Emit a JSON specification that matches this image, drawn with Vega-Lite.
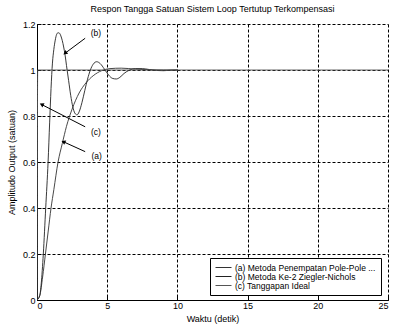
{
  "$schema": "https://vega.github.io/schema/vega-lite/v6.json",
  "autosize": {"type": "none"},
  "width": 351,
  "height": 276,
  "padding": {"left": 37, "top": 24, "right": 5, "bottom": 27},
  "background": "white",
  "config": {
    "font": "Liberation Sans",
    "view": {"stroke": null},
    "axis": {
      "labelFont": "Liberation Sans",
      "titleFont": "Liberation Sans",
      "labelFontSize": 9,
      "titleFontSize": 9,
      "titleFontWeight": "normal",
      "labelColor": "black",
      "titleColor": "black",
      "domainColor": "black",
      "tickColor": "black",
      "gridColor": "black",
      "gridDash": [3, 2],
      "gridOpacity": 1,
      "gridWidth": 1
    }
  },
  "title": {"text": "Respon Tangga Satuan Sistem Loop Tertutup Terkompensasi", "fontSize": 9, "fontWeight": "normal", "font": "Liberation Sans", "color": "black", "offset": 6},
  "datasets": {
    "curves": [
      {"t": 0, "y": 0, "s": "(a) Metoda Penempatan Pole-Pole ..."},
      {"t": 0.2, "y": 0.02, "s": "(a) Metoda Penempatan Pole-Pole ..."},
      {"t": 0.4, "y": 0.1, "s": "(a) Metoda Penempatan Pole-Pole ..."},
      {"t": 0.6, "y": 0.2, "s": "(a) Metoda Penempatan Pole-Pole ..."},
      {"t": 0.8, "y": 0.3, "s": "(a) Metoda Penempatan Pole-Pole ..."},
      {"t": 1.0, "y": 0.4, "s": "(a) Metoda Penempatan Pole-Pole ..."},
      {"t": 1.2, "y": 0.48, "s": "(a) Metoda Penempatan Pole-Pole ..."},
      {"t": 1.5, "y": 0.6, "s": "(a) Metoda Penempatan Pole-Pole ..."},
      {"t": 1.8, "y": 0.68, "s": "(a) Metoda Penempatan Pole-Pole ..."},
      {"t": 2.1, "y": 0.755, "s": "(a) Metoda Penempatan Pole-Pole ..."},
      {"t": 2.5, "y": 0.83, "s": "(a) Metoda Penempatan Pole-Pole ..."},
      {"t": 3.0, "y": 0.9, "s": "(a) Metoda Penempatan Pole-Pole ..."},
      {"t": 3.5, "y": 0.945, "s": "(a) Metoda Penempatan Pole-Pole ..."},
      {"t": 4.0, "y": 0.975, "s": "(a) Metoda Penempatan Pole-Pole ..."},
      {"t": 4.6, "y": 0.997, "s": "(a) Metoda Penempatan Pole-Pole ..."},
      {"t": 5.2, "y": 1.006, "s": "(a) Metoda Penempatan Pole-Pole ..."},
      {"t": 6.0, "y": 1.008, "s": "(a) Metoda Penempatan Pole-Pole ..."},
      {"t": 7.0, "y": 1.004, "s": "(a) Metoda Penempatan Pole-Pole ..."},
      {"t": 8.0, "y": 1.001, "s": "(a) Metoda Penempatan Pole-Pole ..."},
      {"t": 9.0, "y": 1.0, "s": "(a) Metoda Penempatan Pole-Pole ..."},
      {"t": 10.0, "y": 1.0, "s": "(a) Metoda Penempatan Pole-Pole ..."},
      {"t": 0, "y": 0, "s": "(b) Metoda Ke-2 Ziegler-Nichols"},
      {"t": 0.2, "y": 0.02, "s": "(b) Metoda Ke-2 Ziegler-Nichols"},
      {"t": 0.3, "y": 0.07, "s": "(b) Metoda Ke-2 Ziegler-Nichols"},
      {"t": 0.45, "y": 0.2, "s": "(b) Metoda Ke-2 Ziegler-Nichols"},
      {"t": 0.62, "y": 0.4, "s": "(b) Metoda Ke-2 Ziegler-Nichols"},
      {"t": 0.79, "y": 0.6, "s": "(b) Metoda Ke-2 Ziegler-Nichols"},
      {"t": 0.9, "y": 0.77, "s": "(b) Metoda Ke-2 Ziegler-Nichols"},
      {"t": 1.0, "y": 0.92, "s": "(b) Metoda Ke-2 Ziegler-Nichols"},
      {"t": 1.1, "y": 1.03, "s": "(b) Metoda Ke-2 Ziegler-Nichols"},
      {"t": 1.2, "y": 1.09, "s": "(b) Metoda Ke-2 Ziegler-Nichols"},
      {"t": 1.3, "y": 1.13, "s": "(b) Metoda Ke-2 Ziegler-Nichols"},
      {"t": 1.4, "y": 1.155, "s": "(b) Metoda Ke-2 Ziegler-Nichols"},
      {"t": 1.5, "y": 1.162, "s": "(b) Metoda Ke-2 Ziegler-Nichols"},
      {"t": 1.6, "y": 1.16, "s": "(b) Metoda Ke-2 Ziegler-Nichols"},
      {"t": 1.7, "y": 1.148, "s": "(b) Metoda Ke-2 Ziegler-Nichols"},
      {"t": 1.8, "y": 1.128, "s": "(b) Metoda Ke-2 Ziegler-Nichols"},
      {"t": 1.9, "y": 1.1, "s": "(b) Metoda Ke-2 Ziegler-Nichols"},
      {"t": 2.0, "y": 1.065, "s": "(b) Metoda Ke-2 Ziegler-Nichols"},
      {"t": 2.1, "y": 1.02, "s": "(b) Metoda Ke-2 Ziegler-Nichols"},
      {"t": 2.25, "y": 0.955, "s": "(b) Metoda Ke-2 Ziegler-Nichols"},
      {"t": 2.4, "y": 0.89, "s": "(b) Metoda Ke-2 Ziegler-Nichols"},
      {"t": 2.55, "y": 0.84, "s": "(b) Metoda Ke-2 Ziegler-Nichols"},
      {"t": 2.7, "y": 0.812, "s": "(b) Metoda Ke-2 Ziegler-Nichols"},
      {"t": 2.85, "y": 0.805, "s": "(b) Metoda Ke-2 Ziegler-Nichols"},
      {"t": 3.0, "y": 0.818, "s": "(b) Metoda Ke-2 Ziegler-Nichols"},
      {"t": 3.2, "y": 0.858, "s": "(b) Metoda Ke-2 Ziegler-Nichols"},
      {"t": 3.4, "y": 0.91, "s": "(b) Metoda Ke-2 Ziegler-Nichols"},
      {"t": 3.6, "y": 0.96, "s": "(b) Metoda Ke-2 Ziegler-Nichols"},
      {"t": 3.8, "y": 1.0, "s": "(b) Metoda Ke-2 Ziegler-Nichols"},
      {"t": 4.0, "y": 1.025, "s": "(b) Metoda Ke-2 Ziegler-Nichols"},
      {"t": 4.25, "y": 1.036, "s": "(b) Metoda Ke-2 Ziegler-Nichols"},
      {"t": 4.5, "y": 1.028, "s": "(b) Metoda Ke-2 Ziegler-Nichols"},
      {"t": 4.8, "y": 1.004, "s": "(b) Metoda Ke-2 Ziegler-Nichols"},
      {"t": 5.1, "y": 0.978, "s": "(b) Metoda Ke-2 Ziegler-Nichols"},
      {"t": 5.4, "y": 0.963, "s": "(b) Metoda Ke-2 Ziegler-Nichols"},
      {"t": 5.65, "y": 0.961, "s": "(b) Metoda Ke-2 Ziegler-Nichols"},
      {"t": 5.9, "y": 0.968, "s": "(b) Metoda Ke-2 Ziegler-Nichols"},
      {"t": 6.2, "y": 0.985, "s": "(b) Metoda Ke-2 Ziegler-Nichols"},
      {"t": 6.6, "y": 1.0, "s": "(b) Metoda Ke-2 Ziegler-Nichols"},
      {"t": 7.0, "y": 1.006, "s": "(b) Metoda Ke-2 Ziegler-Nichols"},
      {"t": 7.5, "y": 1.006, "s": "(b) Metoda Ke-2 Ziegler-Nichols"},
      {"t": 8.0, "y": 1.002, "s": "(b) Metoda Ke-2 Ziegler-Nichols"},
      {"t": 8.5, "y": 0.998, "s": "(b) Metoda Ke-2 Ziegler-Nichols"},
      {"t": 9.0, "y": 0.997, "s": "(b) Metoda Ke-2 Ziegler-Nichols"},
      {"t": 9.5, "y": 0.999, "s": "(b) Metoda Ke-2 Ziegler-Nichols"},
      {"t": 10.0, "y": 1.0, "s": "(b) Metoda Ke-2 Ziegler-Nichols"},
      {"t": 0, "y": 0, "s": "(c) Tanggapan Ideal"},
      {"t": 0.05, "y": 1, "s": "(c) Tanggapan Ideal"},
      {"t": 25, "y": 1, "s": "(c) Tanggapan Ideal"}
    ],
    "labels": [
      {"t": 4.2, "y": 1.162, "txt": "(b)"},
      {"t": 4.2, "y": 0.732, "txt": "(c)"},
      {"t": 4.25, "y": 0.626, "txt": "(a)"}
    ],
    "arrows": [
      {"k": "b", "t": 3.43, "y": 1.138, "t2": 2.0, "y2": 1.073},
      {"k": "c", "t": 3.43, "y": 0.753, "t2": 0.33, "y2": 0.85},
      {"k": "a", "t": 3.43, "y": 0.645, "t2": 1.88, "y2": 0.688}
    ]
  },
  "layer": [
    {
      "data": {"name": "curves"},
      "mark": {"type": "line", "strokeWidth": 0.9, "interpolate": "monotone", "clip": true},
      "encoding": {
        "x": {
          "field": "t", "type": "quantitative",
          "scale": {"domain": [0, 25], "nice": false, "zero": false},
          "axis": {"values": [0, 5, 10, 15, 20, 25], "format": "~g", "title": "Waktu (detik)", "grid": true, "tickSize": -4, "labelPadding": 5, "titlePadding": 4, "domainWidth": 1}
        },
        "y": {
          "field": "y", "type": "quantitative",
          "scale": {"domain": [0, 1.2], "nice": false},
          "axis": {"values": [0, 0.2, 0.4, 0.6, 0.8, 1, 1.2], "format": "~g", "title": "Amplitudo Output (satuan)", "grid": true, "tickSize": -4, "labelPadding": 6, "titlePadding": 6, "domainWidth": 1}
        },
        "color": {
          "field": "s", "type": "nominal",
          "scale": {"domain": ["(a) Metoda Penempatan Pole-Pole ...", "(b) Metoda Ke-2 Ziegler-Nichols", "(c) Tanggapan Ideal"], "range": ["#333333", "#222222", "#555555"]},
          "legend": {
            "title": null,
            "orient": "none",
            "legendX": 173,
            "legendY": 234,
            "direction": "vertical",
            "symbolType": "M-1,0H3",
            "symbolSize": 64,
            "symbolStrokeWidth": 1,
            "labelOffset": 11,
            "labelFontSize": 8.5,
            "labelFont": "Liberation Sans",
            "labelColor": "black",
            "labelLimit": 300,
            "rowPadding": 0,
            "strokeColor": "black",
            "fillColor": "white",
            "padding": 5,
            "cornerRadius": 0
          }
        }
      }
    },
    {
      "data": {"name": "arrows"},
      "mark": {"type": "rule", "color": "black", "strokeWidth": 1},
      "encoding": {
        "x": {"field": "t", "type": "quantitative"},
        "y": {"field": "y", "type": "quantitative"},
        "x2": {"field": "t2"},
        "y2": {"field": "y2"}
      }
    },
    {
      "data": {"name": "arrows"},
      "transform": [{"filter": "datum.k == 'b'"}],
      "mark": {"type": "point", "shape": "triangle-up", "filled": true, "color": "black", "size": 22, "angle": 233, "opacity": 1},
      "encoding": {
        "x": {"field": "t2", "type": "quantitative"},
        "y": {"field": "y2", "type": "quantitative"}
      }
    },
    {
      "data": {"name": "arrows"},
      "transform": [{"filter": "datum.k == 'c'"}],
      "mark": {"type": "point", "shape": "triangle-up", "filled": true, "color": "black", "size": 22, "angle": 297, "opacity": 1},
      "encoding": {
        "x": {"field": "t2", "type": "quantitative"},
        "y": {"field": "y2", "type": "quantitative"}
      }
    },
    {
      "data": {"name": "arrows"},
      "transform": [{"filter": "datum.k == 'a'"}],
      "mark": {"type": "point", "shape": "triangle-up", "filled": true, "color": "black", "size": 22, "angle": 295, "opacity": 1},
      "encoding": {
        "x": {"field": "t2", "type": "quantitative"},
        "y": {"field": "y2", "type": "quantitative"}
      }
    },
    {
      "data": {"name": "labels"},
      "mark": {"type": "text", "fontSize": 8.5, "font": "Liberation Sans", "color": "black", "align": "center", "baseline": "middle"},
      "encoding": {
        "x": {"field": "t", "type": "quantitative"},
        "y": {"field": "y", "type": "quantitative"},
        "text": {"field": "txt"}
      }
    }
  ]
}
